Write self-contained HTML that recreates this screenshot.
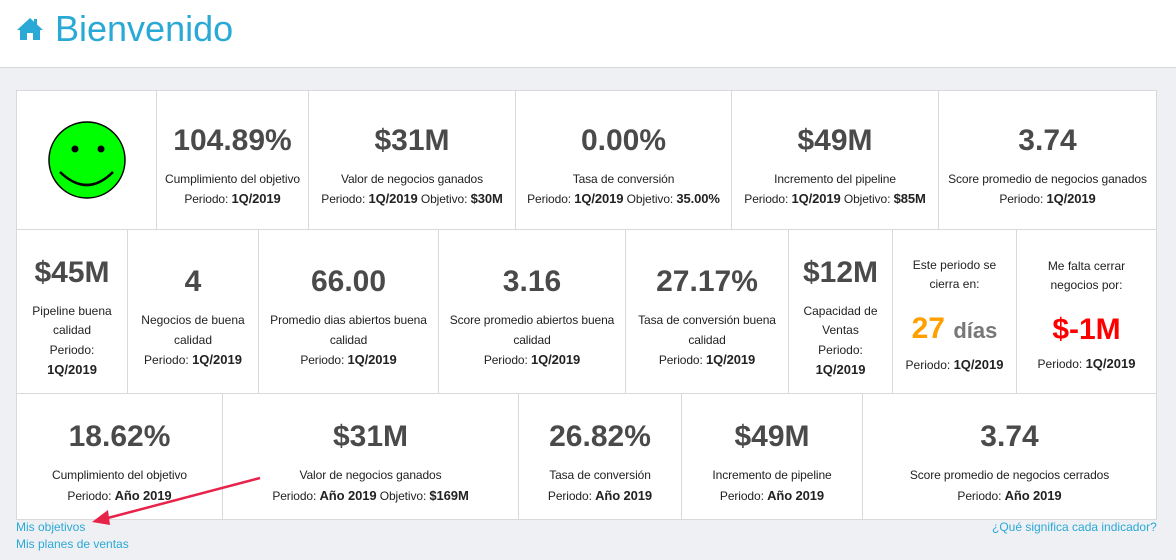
<!DOCTYPE html>
<html><head><meta charset="utf-8">
<style>
*{box-sizing:border-box;margin:0;padding:0}
body{width:1176px;height:560px;background:#eef0f4;font-family:"Liberation Sans",sans-serif;position:relative;overflow:hidden}
#hdr{position:absolute;left:0;top:0;width:1176px;height:68px;background:#fff;border-bottom:1px solid #d8d8d8}
#title{position:absolute;left:55px;top:8px;font-size:36px;color:#2aa9d6}
.cell{position:absolute;background:#fff;border:1px solid #d9d9d9;display:flex;flex-direction:column;align-items:center;justify-content:center;text-align:center;padding:8px 0 0 0}
.v{font-size:30px;font-weight:bold;color:#4a4a4a;line-height:36px;margin-bottom:11px;margin-top:4px}
.t{font-size:12px;color:#222;line-height:19.5px}
.n{white-space:nowrap;letter-spacing:-0.1px}
.t b{font-size:13px}
a{position:absolute;font-size:12px;color:#2aa9d6;text-decoration:none}
</style></head><body>
<div id="hdr">
<svg style="position:absolute;left:16px;top:17px" width="28" height="24" viewBox="0 0 28 24"><path d="M14 1 L1 13 L4 13 L4 23 L11 23 L11 16 L17 16 L17 23 L24 23 L24 13 L27 13 L21 7.5 L21 2 L18 2 L18 4.8 Z" fill="#2aa9d6"/></svg>
<div id="title">Bienvenido</div>
</div>

<div class="cell" style="left:16px;top:90px;width:141px;height:140px;padding:0">
<svg width="80" height="80" viewBox="0 0 80 80"><circle cx="40" cy="40" r="38" fill="#00ff00" stroke="#000" stroke-width="1.5"/><circle cx="28" cy="29" r="3.5"/><circle cx="54" cy="29" r="3.5"/><path d="M13 52 Q40 78 66 52" fill="none" stroke="#000" stroke-width="2.5"/></svg></div>
<div class="cell" style="left:156px;top:90px;width:153px;height:140px"><div class="v">104.89%</div><div class="t n">Cumplimiento del objetivo</div><div class="t n">Periodo: <b>1Q/2019</b></div></div>
<div class="cell" style="left:308px;top:90px;width:208px;height:140px"><div class="v">$31M</div><div class="t n">Valor de negocios ganados</div><div class="t n">Periodo: <b>1Q/2019</b> Objetivo: <b>$30M</b></div></div>
<div class="cell" style="left:515px;top:90px;width:217px;height:140px"><div class="v">0.00%</div><div class="t n">Tasa de conversión</div><div class="t n">Periodo: <b>1Q/2019</b> Objetivo: <b>35.00%</b></div></div>
<div class="cell" style="left:731px;top:90px;width:208px;height:140px"><div class="v">$49M</div><div class="t n">Incremento del pipeline</div><div class="t n">Periodo: <b>1Q/2019</b> Objetivo: <b>$85M</b></div></div>
<div class="cell" style="left:938px;top:90px;width:219px;height:140px"><div class="v">3.74</div><div class="t n">Score promedio de negocios ganados</div><div class="t n">Periodo: <b>1Q/2019</b></div></div>

<div class="cell" style="left:16px;top:229px;width:112px;height:165px"><div class="v">$45M</div><div class="t">Pipeline buena<br>calidad<br>Periodo:<br><b>1Q/2019</b></div></div>
<div class="cell" style="left:127px;top:229px;width:132px;height:165px"><div class="v">4</div><div class="t">Negocios de buena<br>calidad<br>Periodo: <b>1Q/2019</b></div></div>
<div class="cell" style="left:258px;top:229px;width:181px;height:165px"><div class="v">66.00</div><div class="t n">Promedio dias abiertos buena<br>calidad<br>Periodo: <b>1Q/2019</b></div></div>
<div class="cell" style="left:438px;top:229px;width:188px;height:165px"><div class="v">3.16</div><div class="t n">Score promedio abiertos buena<br>calidad<br>Periodo: <b>1Q/2019</b></div></div>
<div class="cell" style="left:625px;top:229px;width:164px;height:165px"><div class="v">27.17%</div><div class="t n">Tasa de conversión buena<br>calidad<br>Periodo: <b>1Q/2019</b></div></div>
<div class="cell" style="left:788px;top:229px;width:105px;height:165px"><div class="v">$12M</div><div class="t">Capacidad de<br>Ventas<br>Periodo:<br><b>1Q/2019</b></div></div>
<div class="cell" style="left:892px;top:229px;width:125px;height:165px"><div class="t">Este periodo se<br>cierra en:</div><div class="v" style="margin:16px 0 6px"><span style="color:#ff9f00">27</span> <span style="font-size:22px;color:#777">días</span></div><div class="t">Periodo: <b>1Q/2019</b></div></div>
<div class="cell" style="left:1016px;top:229px;width:141px;height:165px"><div class="t">Me falta cerrar<br>negocios por:</div><div class="v" style="margin:16px 0 6px;color:#ff0000">$-1M</div><div class="t">Periodo: <b>1Q/2019</b></div></div>

<div class="cell" style="left:16px;top:393px;width:207px;height:127px"><div class="v">18.62%</div><div class="t n">Cumplimiento del objetivo</div><div class="t n">Periodo: <b>Año 2019</b></div></div>
<div class="cell" style="left:222px;top:393px;width:297px;height:127px"><div class="v">$31M</div><div class="t n">Valor de negocios ganados</div><div class="t n">Periodo: <b>Año 2019</b> Objetivo: <b>$169M</b></div></div>
<div class="cell" style="left:518px;top:393px;width:164px;height:127px"><div class="v">26.82%</div><div class="t n">Tasa de conversión</div><div class="t n">Periodo: <b>Año 2019</b></div></div>
<div class="cell" style="left:681px;top:393px;width:182px;height:127px"><div class="v">$49M</div><div class="t n">Incremento de pipeline</div><div class="t n">Periodo: <b>Año 2019</b></div></div>
<div class="cell" style="left:862px;top:393px;width:295px;height:127px"><div class="v">3.74</div><div class="t n">Score promedio de negocios cerrados</div><div class="t n">Periodo: <b>Año 2019</b></div></div>

<a href="#" style="left:16px;top:520px">Mis objetivos</a>
<a href="#" style="left:16px;top:537px">Mis planes de ventas</a>
<a href="#" style="left:992px;top:520px">¿Qué significa cada indicador?</a>

<svg style="position:absolute;left:0;top:0" width="1176" height="560"><line x1="260" y1="478" x2="104" y2="519" stroke="#e8234a" stroke-width="2.5"/><path d="M92 522 L108 510 L110 525 Z" fill="#e8234a"/></svg>
</body></html>
